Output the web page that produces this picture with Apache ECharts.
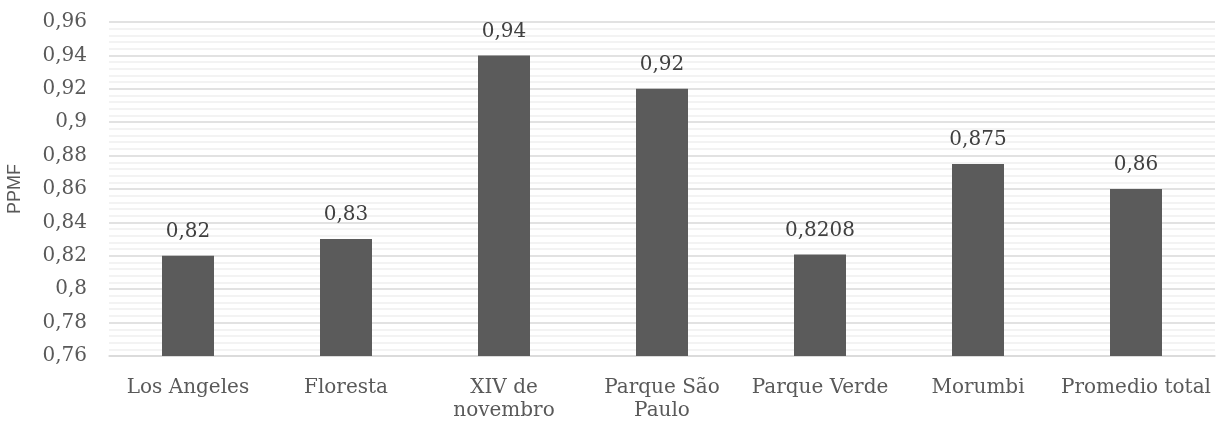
<!DOCTYPE html>
<html>
<head>
<meta charset="utf-8">
<script src="https://cdn.jsdelivr.net/npm/echarts@6/dist/echarts.min.js"></script>
<style>
    html, body { margin: 0; padding: 0; background: #fff; }
    #chart { width: 1216px; height: 425px; }
</style>
</head>
<body>
<div id="chart"></div>
<script>
var categories = ['Los Angeles', 'Floresta', 'XIV de\nnovembro', 'Parque São\nPaulo', 'Parque Verde', 'Morumbi', 'Promedio total'];
var ppmfValues = [0.82, 0.83, 0.94, 0.92, 0.8208, 0.875, 0.86];
var yMin = 0.76;
var yMax = 0.96;
var yStep = 0.02;

function comma(v) {
    return String(+v.toFixed(4)).replace('.', ',');
}

var myChart = echarts.init(document.getElementById('chart'));

var option = {
    animation: false,
    grid: {
        left: 109,
        right: 1,
        top: 22,
        bottom: 69,
        containLabel: false,
        outerBoundsMode: 'none'
    },
    xAxis: {
        type: 'category',
        data: categories,
        axisLine: { lineStyle: { color: '#d9d9d9', width: 1.5 } },
        axisTick: { show: false },
        axisLabel: {
            color: '#595959',
            fontFamily: 'DejaVu Serif',
            fontSize: 20,
            lineHeight: 23,
            margin: 20,
            interval: 0
        }
    },
    yAxis: {
        type: 'value',
        min: yMin,
        max: yMax,
        interval: yStep,
        name: 'PPMF',
        nameLocation: 'middle',
        nameGap: 85,
        nameTextStyle: {
            color: '#595959',
            fontFamily: 'Liberation Sans',
            fontSize: 18
        },
        axisLine: { show: false },
        axisTick: { show: false },
        axisLabel: {
            color: '#595959',
            fontFamily: 'DejaVu Serif',
            fontSize: 20,
            margin: 22,
            formatter: function (v) { return comma(v); }
        },
        splitLine: { lineStyle: { color: '#d9d9d9', width: 1.5 } },
        minorTick: { show: false, splitNumber: 5 },
        minorSplitLine: { show: true, lineStyle: { color: '#efefef', width: 1.5 } }
    },
    series: [{
        name: 'PPMF',
        type: 'bar',
        data: ppmfValues,
        barWidth: 52,
        itemStyle: { color: '#5b5b5b' },
        label: {
            show: true,
            position: 'top',
            distance: 14,
            color: '#404040',
            fontFamily: 'DejaVu Serif',
            fontSize: 20,
            formatter: function (p) { return comma(p.value); }
        }
    }]
};
myChart.setOption(option);
</script>
</body>
</html>
